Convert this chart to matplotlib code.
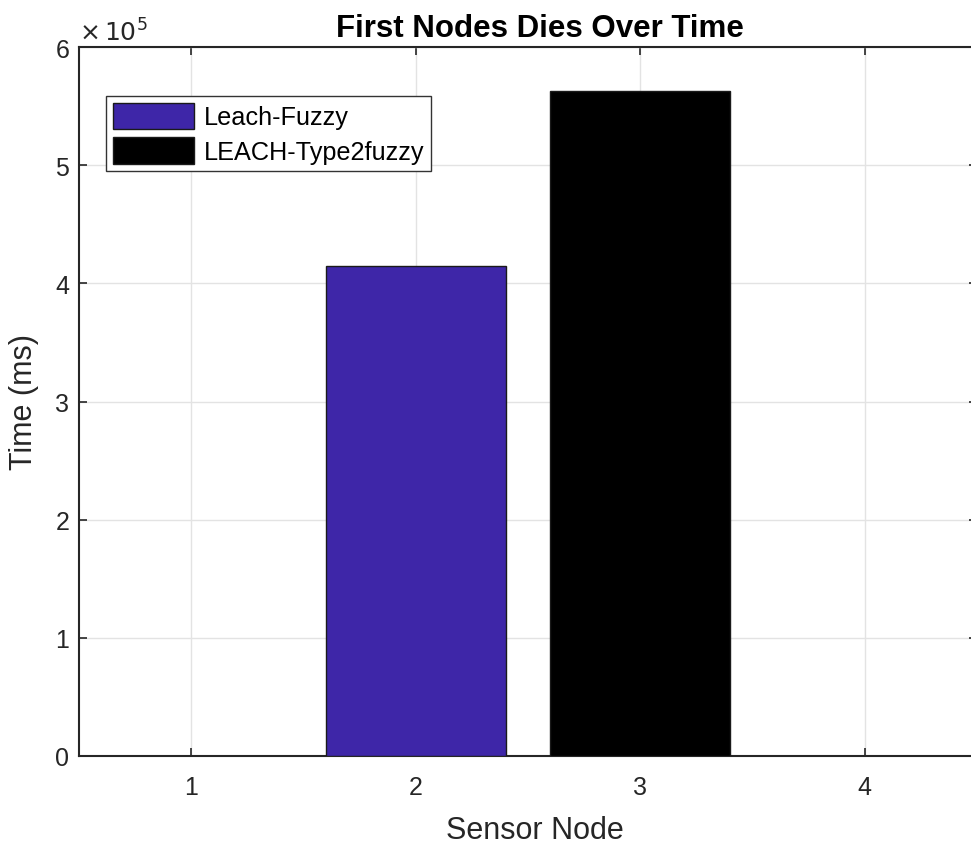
import matplotlib
matplotlib.use("Agg")
import matplotlib.pyplot as plt
from matplotlib.ticker import FuncFormatter
from matplotlib.patches import Patch

plt.rcParams['font.family'] = ['Liberation Sans', 'DejaVu Sans']

categories = [1, 2, 3, 4]
series_names = ['Leach-Fuzzy', 'LEACH-Type2fuzzy']
leach_fuzzy = [0, 415000, 0, 0]
leach_type2 = [0, 0, 563000, 0]
colors = ['#3E26A8', '#000000']

W, H = 971, 845
fig = plt.figure(figsize=(W / 100, H / 100), dpi=100)
x0, x1, ytop, ybot = 79, 977, 48, 757
ax = fig.add_axes([x0 / W, (H - ybot) / H, (x1 - x0) / W, (ybot - ytop) / H])

tc = '#262626'
for vals, col in zip((leach_fuzzy, leach_type2), colors):
    bars = ax.bar(categories, vals, width=0.8, color=col, edgecolor='#1a1a1a',
                  linewidth=1.0, zorder=3)
    for r in bars:
        if r.get_height() == 0:
            r.set_visible(False)

ax.set_xlim(0.5, 4.5)
ax.set_ylim(0, 600000)
ax.set_xticks(categories)
ax.set_yticks([0, 100000, 200000, 300000, 400000, 500000, 600000])
ax.yaxis.set_major_formatter(FuncFormatter(lambda v, p: f"{v / 1e5:g}"))
ax.grid(True, color='#e3e3e3', linewidth=1.0, zorder=0)
ax.set_axisbelow(True)
ax.tick_params(direction='in', top=True, right=True, length=6, width=1.2,
               labelsize=18, colors=tc)
ax.tick_params(axis='x', pad=14)
ax.tick_params(axis='y', pad=7)
for s in ax.spines.values():
    s.set_color(tc)
    s.set_linewidth(1.5)

ax.text(0.0, 1.002, r'$\times\,10^5$', transform=ax.transAxes, fontsize=18,
        color=tc, ha='left', va='bottom', family='DejaVu Sans')
ax.set_title('First Nodes Dies Over Time', fontsize=22.5, fontweight='bold',
             color='black', x=0.513, pad=8)
ax.set_xlabel('Sensor Node', fontsize=22, color=tc)
ax.xaxis.set_label_coords(0.508, -0.083)
ax.set_ylabel('Time (ms)', fontsize=22, color=tc)
ax.yaxis.set_label_coords(-0.044, 0.5)

handles = [Patch(facecolor=c, edgecolor='#1a1a1a', linewidth=1.0) for c in colors]
leg = ax.legend(handles, series_names, loc='upper left', bbox_to_anchor=(0.030, 0.931),
                borderaxespad=0, fontsize=18.2, frameon=True, fancybox=False,
                framealpha=1, edgecolor='#333333', handlelength=3.2, handleheight=1.22,
                handletextpad=0.4, borderpad=0.27, labelspacing=0.32)
leg.get_frame().set_linewidth(1.0)

fig.savefig('out.png', dpi=100)
